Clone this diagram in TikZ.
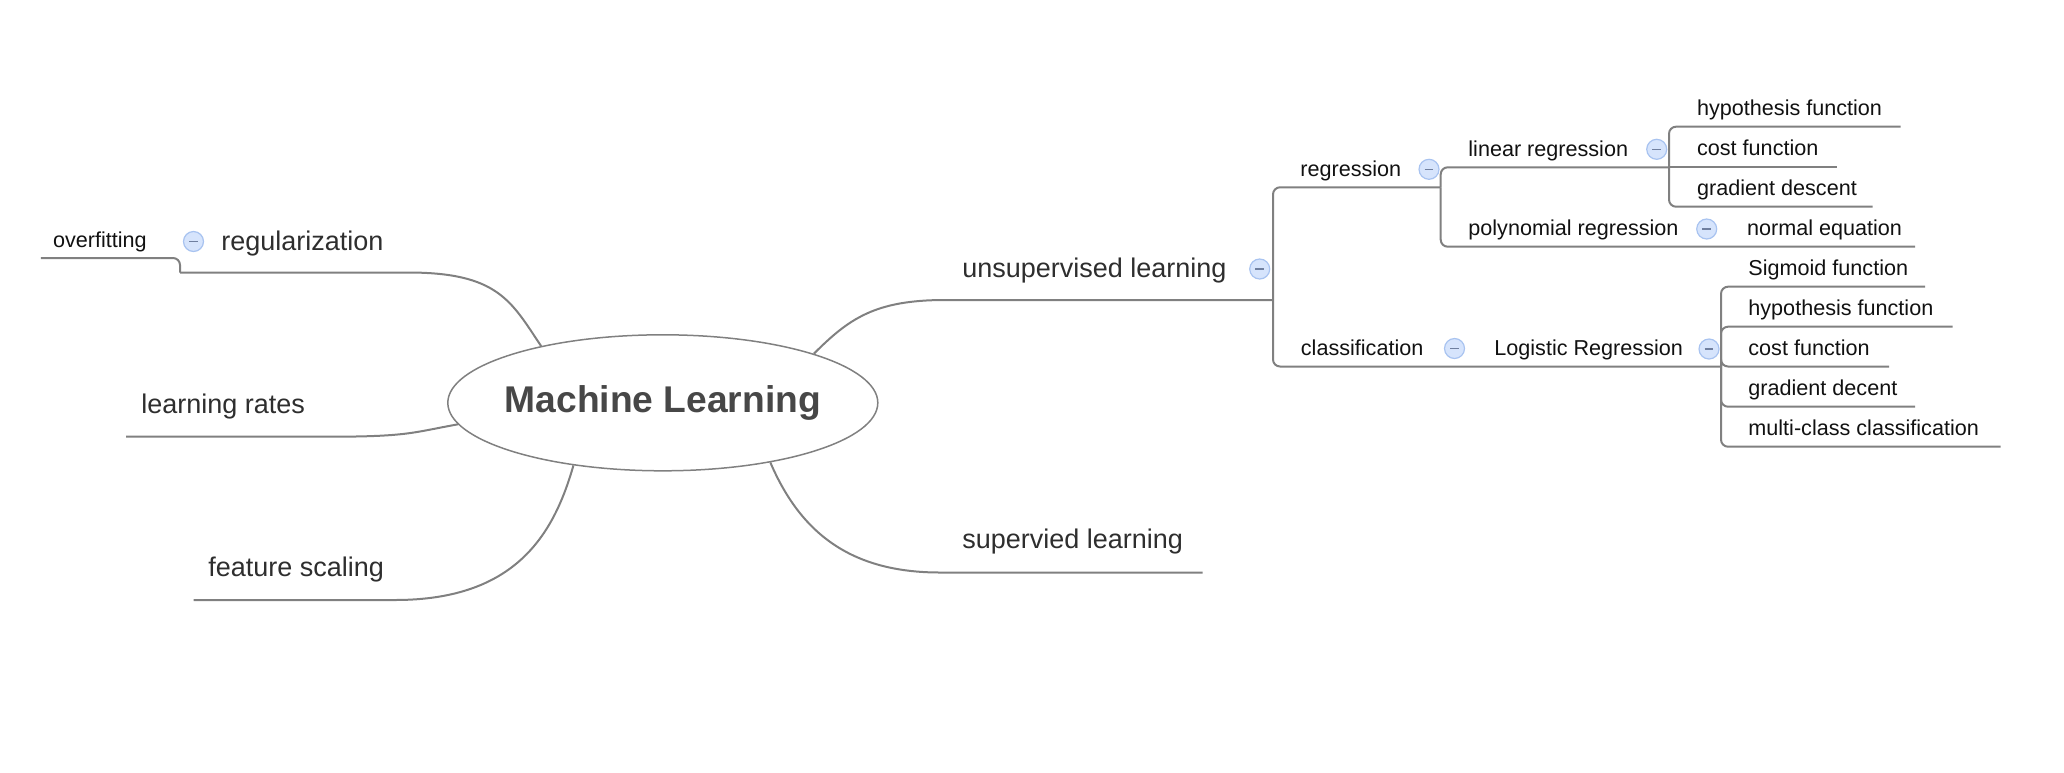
\documentclass[tikz,border=0pt]{standalone}
\usepackage{fontspec}
\setmainfont{Liberation Sans}
\usepackage{xcolor}
\usepackage{tikz}
\usetikzlibrary{shapes.geometric}

\definecolor{linegray}{HTML}{808080}
\definecolor{roottext}{HTML}{474747}
\definecolor{topictext}{HTML}{2E2E2E}
\definecolor{subtext}{HTML}{111111}
\definecolor{foldfill}{HTML}{D6E4FC}
\definecolor{foldedge}{HTML}{A8C3F0}
\definecolor{foldminus}{HTML}{6F7F9F}

\begin{document}
\begin{tikzpicture}[
  x=0.5pt,y=-0.5pt,
  branch/.style={draw=linegray,line width=1pt},
  fork/.style={branch,rounded corners=3.5pt},
  root/.style={ellipse,draw=linegray,line width=0.75pt,minimum width=215pt,minimum height=68pt,
    inner sep=0pt,font=\fontsize{18.6}{22}\selectfont\bfseries,text=roottext},
  topic/.style={anchor=base west,inner sep=0pt,font=\fontsize{13.5}{16}\selectfont,text=topictext},
  subtopic/.style={anchor=base west,inner sep=0pt,font=\fontsize{10.8}{13}\selectfont,text=subtext},
  fold/.style={circle,draw=foldedge,fill=foldfill,line width=0.6pt,minimum size=10pt,inner sep=0pt,
    path picture={\draw[foldminus,line width=0.7pt]
      ([xshift=-2.2pt]path picture bounding box.center) -- ([xshift=2.2pt]path picture bounding box.center);}}
]
  \useasboundingbox (0,0) rectangle (2064,772);

  % central topic
  \node[root] (ml) at (662.8,402.8) {\makebox[0pt]{\raisebox{-1.5pt}{Machine Learning}}};

  % first level
  \node[topic] (unsup)  at (962,277)  {unsupervised learning};
  \node[topic] (sup)    at (962,548)  {supervied learning};
  \node[topic] (regul)  at (221,250)  {regularization};
  \node[topic] (lrate)  at (141,413)  {learning rates};
  \node[topic] (fscale) at (208,576)  {feature scaling};
  \node[subtopic] (overfit) at (52.7,247) {overfitting};

  % second level and below
  \node[subtopic] (regr)    at (1300,176)    {regression};
  \node[subtopic] (classif) at (1300.5,355.5) {classification};
  \node[subtopic] (linreg)  at (1468,156)    {linear regression};
  \node[subtopic] (polyreg) at (1468,235.7)  {polynomial regression};
  \node[subtopic] (logreg)  at (1494,355.5)  {Logistic Regression};

  \node[subtopic] (hypo)    at (1696.7,115.7) {hypothesis function};
  \node[subtopic] (cost)    at (1696.7,155.7) {cost function};
  \node[subtopic] (grad)    at (1696.7,195.7) {gradient descent};
  \node[subtopic] (normeq)  at (1746.7,235.7) {normal equation};

  \node[subtopic] (sigmoid) at (1748,275.7) {Sigmoid function};
  \node[subtopic] (lhypo)   at (1748,315.7) {hypothesis function};
  \node[subtopic] (lcost)   at (1748,355.5) {cost function};
  \node[subtopic] (lgrad)   at (1748,395.7) {gradient decent};
  \node[subtopic] (multi)   at (1748,435.7) {multi-class classification};

  % underline ends
  \coordinate (unsupL)  at (945,300);
  \coordinate (unsupR)  at (1273,300);
  \coordinate (supL)    at (940,572.5);
  \coordinate (supR)    at (1202.7,572.5);
  \coordinate (regulR)  at (408,272.5);
  \coordinate (regulL)  at (180,272.5);
  \coordinate (lrateR)  at (329,436.7);
  \coordinate (lrateL)  at (126,436.7);
  \coordinate (fscaleR) at (395,600);
  \coordinate (fscaleL) at (193.5,600);
  \coordinate (overL)   at (40.8,258);

  \coordinate (regrR)   at (1440.7,187.3);
  \coordinate (logR)    at (1721,366.5);
  \coordinate (linR)    at (1669,167.3);
  \coordinate (polyR)   at (1720,246.7);

  \coordinate (hypoR)    at (1900.7,126.7);
  \coordinate (costR)    at (1836.7,167.3);
  \coordinate (gradR)    at (1872.7,206.7);
  \coordinate (normeqR)  at (1915,246.7);
  \coordinate (sigmoidR) at (1925,286.7);
  \coordinate (lhypoR)   at (1952.7,326.7);
  \coordinate (lcostR)   at (1889,366.5);
  \coordinate (lgradR)   at (1915,406.7);
  \coordinate (multiR)   at (2000.7,446.7);

  % curved branches from the centre
  \draw[branch] (ml.18)  .. controls +(35,-35) and +(-70,0) .. (unsupL) -- (unsupR);
  \draw[branch] (ml.-29) .. controls +(30,70) and +(-90,0) .. (supL) -- (supR);
  \draw[branch] (ml.155) .. controls +(-30,-45) and +(90,0) .. (regulR) -- (regulL);
  \draw[branch] (ml.186) .. controls +(-45,8) and +(80,0) .. (lrateR) -- (lrateL);
  \draw[branch] (ml.215) .. controls +(-20,70) and +(120,0) .. (fscaleR) -- (fscaleL);

  % logic-chart forks
  \draw[fork] (regulL) |- (overL);
  \draw[fork] (unsupR) |- (regrR);
  \draw[fork] (unsupR) |- (logR);
  \draw[fork] (regrR) |- (linR);
  \draw[fork] (regrR) |- (polyR) -- (normeqR);
  \draw[fork] (linR) |- (hypoR);
  \draw[fork] (linR) -- (costR);
  \draw[fork] (linR) |- (gradR);
  \foreach \leaf in {sigmoidR,lhypoR,lcostR,lgradR,multiR}
    \draw[fork] (logR) |- (\leaf);

  % collapse markers
  \node[fold] (fregul)   at (193.5,241.5) {};
  \node[fold] (funsup)   at (1259.7,269)  {};
  \node[fold] (fregr)    at (1429,169.3)  {};
  \node[fold] (fclassif) at (1454.5,348.5) {};
  \node[fold] (flinreg)  at (1656.7,149.3) {};
  \node[fold] (fpolyreg) at (1706.7,229)  {};
  \node[fold] (flogreg)  at (1709,349)    {};
\end{tikzpicture}
\end{document}
